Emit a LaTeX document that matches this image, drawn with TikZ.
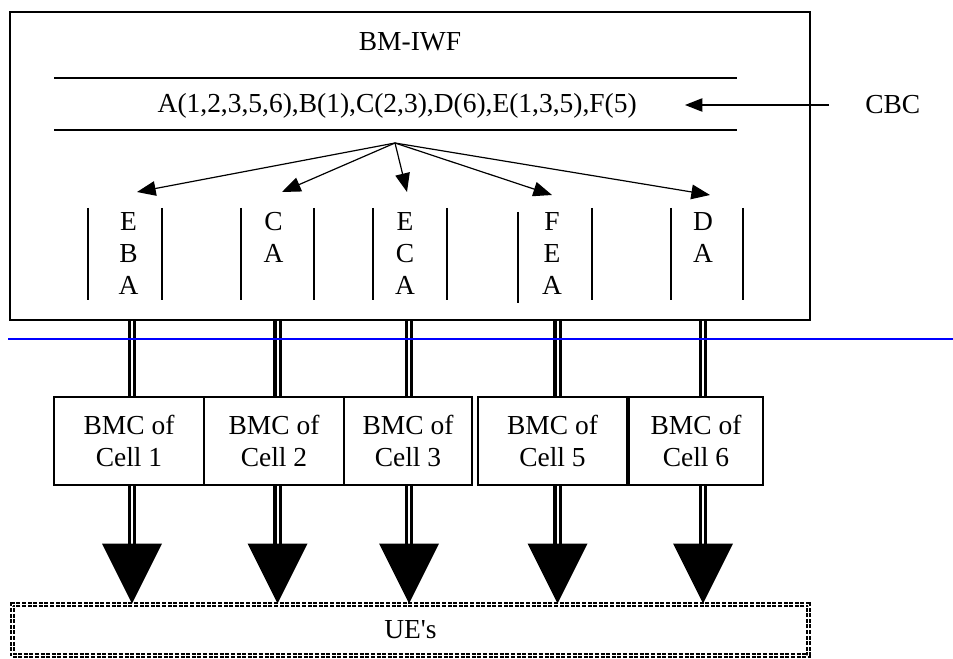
\documentclass[tikz,border=0pt]{standalone}
\usepackage{fontspec}
\setmainfont{Liberation Serif}[Ligatures=TeXOff]
\usetikzlibrary{arrows.meta}
\begin{document}
\begin{tikzpicture}[x=0.75pt,y=-0.75pt,
  every node/.style={font=\fontsize{20.6}{24}\selectfont, inner sep=0pt},
  cell/.style={draw, line width=0.9pt, align=center, minimum height=66pt},
  col/.style={align=center, anchor=north},
  vln/.style={line width=0.9pt},
  hubarrow/.style={-{Triangle[length=14pt,width=11pt]}, line width=0.9pt},
  dbl/.style={double, draw=black, line width=2.6pt, double distance=1.5pt},
  bighead/.style={fill=black}
]
\useasboundingbox (0,0) rectangle (953,659);

% main box
\node[draw, line width=1pt, minimum width=600pt, minimum height=231pt] (main) at (410,166) {};
\node[anchor=base] (title) at (410,51) {BM-IWF};

% list lines
\coordinate (l1a) at (54,78); \coordinate (l1b) at (737,78);
\coordinate (l2a) at (54,130); \coordinate (l2b) at (737,130);
\draw[line width=1pt] (l1a) -- (l1b);
\draw[line width=1pt] (l2a) -- (l2b);
\node[anchor=base east] (list) at (637,113) {A(1,2,3,5,6),B(1),C(2,3),D(6),E(1,3,5),F(5)};

% CBC
\node[anchor=base west] (cbc) at (865,114) {CBC};
\coordinate (cbcstart) at (829,105);
\coordinate (cbctip) at (685,105);
\draw[line width=0.9pt, -{Triangle[length=13pt,width=10pt]}] (cbcstart) -- (cbctip);

% hub arrows
\coordinate (hub) at (395,143);
\coordinate (t1) at (137,192);
\coordinate (t2) at (282,192);
\coordinate (t3) at (407,192);
\coordinate (t4) at (552,195);
\coordinate (t5) at (710,195);
\foreach \t in {t1,t2,t3,t4,t5} \draw[hubarrow] (hub) -- (\t);

% columns
\node[col] (c1) at (128.5,212) {E\\B\\A};
\node[col] (c2) at (273.5,212) {C\\A};
\node[col] (c3) at (405,212) {E\\C\\A};
\node[col] (c4) at (552,212) {F\\E\\A};
\node[col] (c5) at (703,212) {D\\A};
\foreach \x in {88,162,241,314,373,447,592,671,743}
  \draw[vln] (\x,208) -- (\x,300);
\draw[vln] (518,212) -- (518,303);

% BMC boxes
\node[cell, minimum width=112.5pt] (b1) at (129,441) {BMC of\\Cell 1};
\node[cell, minimum width=105pt] (b2) at (274,441) {BMC of\\Cell 2};
\node[cell, minimum width=96pt] (b3) at (408,441) {BMC of\\Cell 3};
\node[cell, minimum width=111.75pt] (b4) at (552.5,441) {BMC of\\Cell 5};
\node[cell, minimum width=100.5pt] (b5) at (696,441) {BMC of\\Cell 6};

% UE box
\node[draw, double, dash pattern=on 3pt off 1.2pt, line width=1.5pt, double distance=0.75pt,
      minimum width=597pt, minimum height=38.25pt] (ue) at (410.5,630) {UE's};

% double lines and big arrowheads
\foreach \i/\x in {1/132,2/277.5,3/409,4/557.5,5/703} {
  \coordinate (d\i) at (\x,0);
  \draw[dbl] (d\i |- main.south) -- (d\i |- b\i.north);
  \draw[dbl] (d\i |- b\i.south) -- ([yshift=44pt]d\i |- ue.north);
  \fill[bighead] (d\i |- ue.north) -- ++(-30,-60) -- ++(60,0) -- cycle;
}

% blue line
\coordinate (bl) at (8,339); \coordinate (br) at (953,339);
\draw[blue, line width=1.5pt] (bl) -- (br);
\end{tikzpicture}
\end{document}
